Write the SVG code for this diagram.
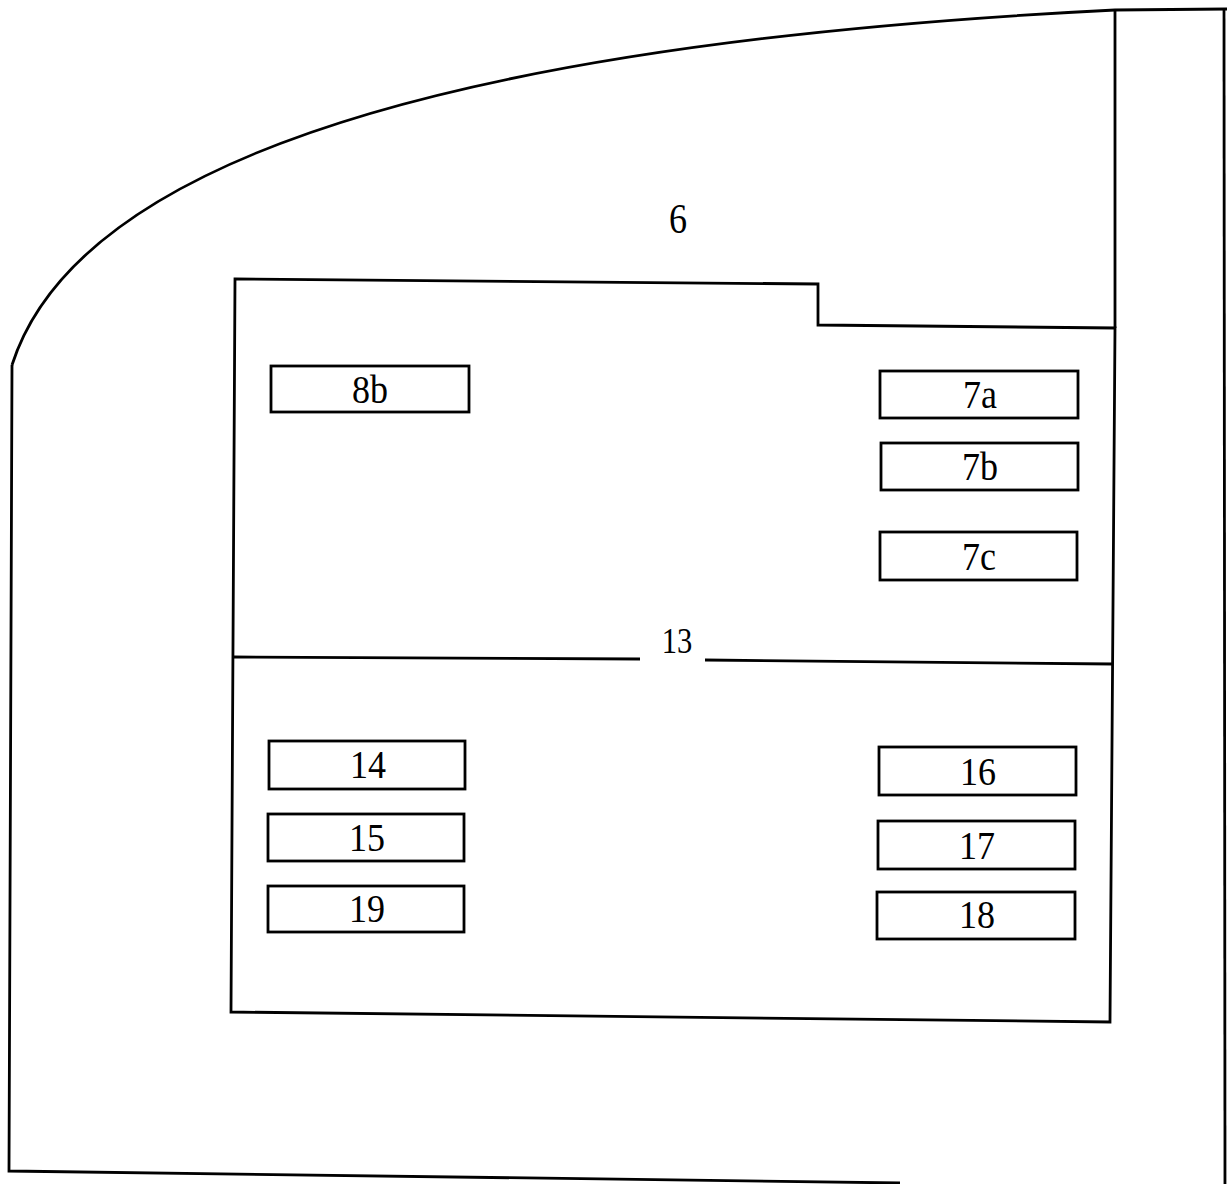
<svg xmlns="http://www.w3.org/2000/svg" width="1227" height="1184" viewBox="0 0 1227 1184">
<style>
.ln{fill:none;stroke:#000;stroke-width:2.8;stroke-linejoin:miter}
.bx{fill:#fff;stroke:#000;stroke-width:2.8}
.lb{font-family:"Liberation Serif","Times New Roman",serif;font-size:40px;fill:#000;text-anchor:middle}
</style>
<rect width="1227" height="1184" fill="#fff"/>
<g id="outline">
<path class="ln" d="M12,365 Q110,60 1115,10 L1227,9"/>
<path class="ln" d="M12,365 L9,1171 L900,1183"/>
<path class="ln" d="M1224,9 L1225,1184"/>
<path class="ln" d="M1115,10 L1115,328"/>
</g>
<g id="inner">
<path class="ln" d="M235,279 L818,284 L818,325 L1115,328 L1110,1022 L231,1012 Z"/>
<path class="ln" d="M233,657 L640,659"/>
<path class="ln" d="M705,660 L1113,664"/>
</g>
<g id="labels">
<text class="lb" transform="translate(678,233) scale(0.84,1)" style="font-size:43px">6</text>
<text class="lb" transform="translate(677,653) scale(0.85,1)" style="font-size:36px">13</text>
</g>
<g id="n8b"><rect class="bx" x="271" y="366" width="198" height="46"/><text class="lb" transform="translate(370,403) scale(0.9,1)">8b</text></g>
<g id="n7a"><rect class="bx" x="880" y="371" width="198" height="47"/><text class="lb" transform="translate(980,408) scale(0.9,1)">7a</text></g>
<g id="n7b"><rect class="bx" x="881" y="443" width="197" height="47"/><text class="lb" transform="translate(980,480) scale(0.9,1)">7b</text></g>
<g id="n7c"><rect class="bx" x="880" y="532" width="197" height="48"/><text class="lb" transform="translate(979,570) scale(0.9,1)">7c</text></g>
<g id="n14"><rect class="bx" x="269" y="741" width="196" height="48"/><text class="lb" transform="translate(368,778) scale(0.9,1)">14</text></g>
<g id="n15"><rect class="bx" x="268" y="814" width="196" height="47"/><text class="lb" transform="translate(367,851) scale(0.9,1)">15</text></g>
<g id="n19"><rect class="bx" x="268" y="886" width="196" height="46"/><text class="lb" transform="translate(367,922) scale(0.9,1)">19</text></g>
<g id="n16"><rect class="bx" x="879" y="747" width="197" height="48"/><text class="lb" transform="translate(978,785) scale(0.9,1)">16</text></g>
<g id="n17"><rect class="bx" x="878" y="821" width="197" height="48"/><text class="lb" transform="translate(977,859) scale(0.9,1)">17</text></g>
<g id="n18"><rect class="bx" x="877" y="892" width="198" height="47"/><text class="lb" transform="translate(977,928) scale(0.9,1)">18</text></g>
<g id="connectors"></g>
</svg>
